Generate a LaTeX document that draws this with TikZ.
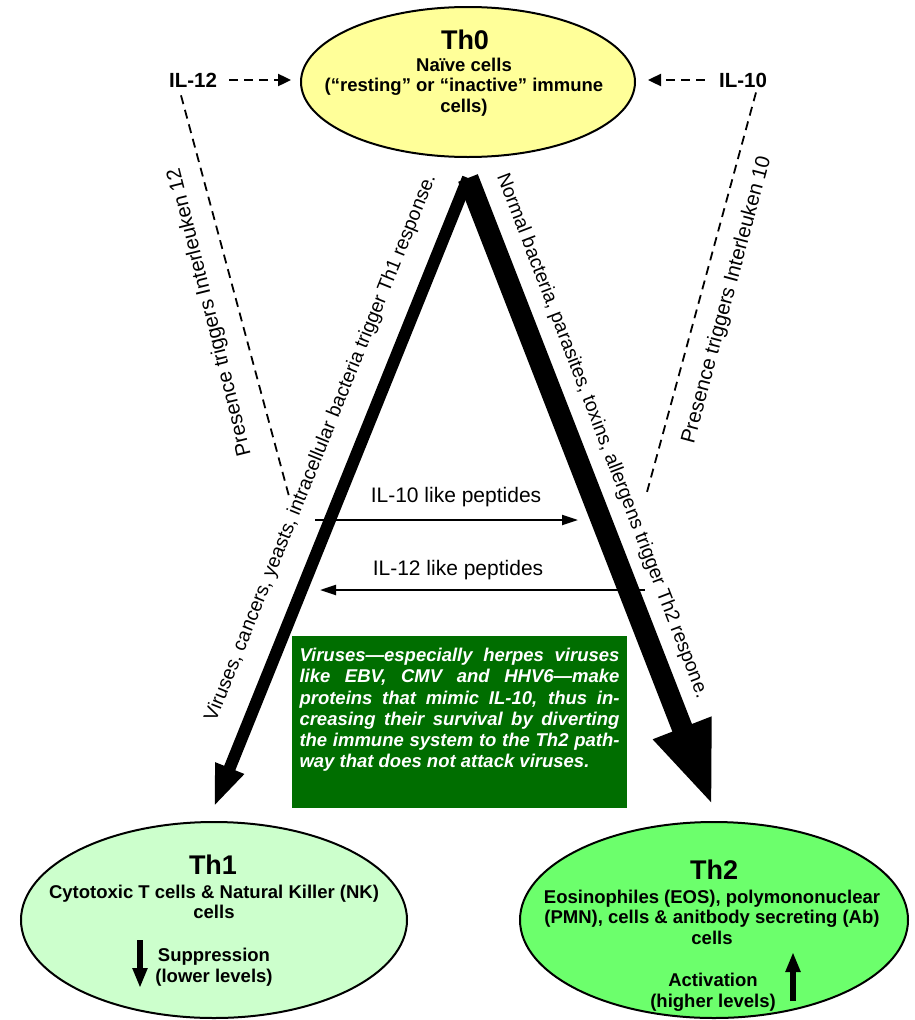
\documentclass[tikz,border=0pt]{standalone}
\usepackage{fontspec}
\setmainfont{Liberation Sans}
\usepackage{xcolor}
\usetikzlibrary{arrows.meta,positioning,shapes.geometric}

\definecolor{naive}{RGB}{255,255,153}
\definecolor{thone}{RGB}{204,255,204}
\definecolor{thtwo}{RGB}{108,255,108}
\definecolor{notegreen}{RGB}{0,110,0}

\begin{document}
\begin{tikzpicture}[
  x=1pt,y=-1pt,
  cell/.style={draw,ellipse,line width=2pt,inner sep=0pt},
  celltitle/.style={font=\fontsize{27}{30}\selectfont\bfseries,inner sep=0pt},
  celltext/.style={align=center,inner sep=0pt,
                   font=\fontsize{18.5}{20.5}\selectfont\bfseries},
  ilab/.style={font=\fontsize{20.5}{24}\selectfont\bfseries,inner sep=2pt},
  sidelab/.style={font=\fontsize{19.5}{22}\selectfont,inner sep=0pt},
  whylab/.style={font=\fontsize{20.5}{24}\selectfont,inner sep=0pt},
  peplab/.style={font=\fontsize{21}{24}\selectfont,inner sep=0pt},
  cue/.style={dash pattern=on 9pt off 6pt,line width=1.8pt},
  cuearrow/.style={cue,line width=2.4pt,-{Triangle[length=13pt,width=12pt]}},
  pep/.style={-{Triangle[length=16pt,width=10pt]},line width=2.2pt},
  toth1/.style={line width=12pt,-{Triangle[length=42pt,width=28pt]}},
  toth2/.style={line width=21pt,-{Triangle[length=85pt,width=56pt]}},
  level/.style={line width=6.5pt,-{Triangle[length=20pt,width=14pt]}},
  note/.style={fill=notegreen,inner sep=0pt},
  notetext/.style={text=white,text width=320pt,align=justify,inner sep=0pt,
                   font=\fontsize{18.5}{21.3}\selectfont\bfseries\itshape}
]
\useasboundingbox (0,0) rectangle (915,1020);

\node[cell,fill=naive,minimum width=334pt,minimum height=150pt] (th0) at (468,82) {};
\node[celltitle] (th0name) at (465,40) {Th0};
\node[celltext] (th0desc) at (464,87) {Naïve cells\\(“resting” or “inactive” immune\\cells)};

\node[ilab] (il12) at (193,80) {IL-12};
\node[ilab] (il10) at (743,80) {IL-10};
\draw[cuearrow,shorten <=10pt,shorten >=9pt] (il12) -- (il12 -| th0.west);
\draw[cuearrow,shorten <=12pt,shorten >=12pt] (il10) -- (il10 -| th0.east);

\coordinate (d12) at (290,500);
\coordinate (d10) at (647,492);
\draw[cue] ([xshift=-12pt,yshift=-6pt]il12.south) -- (d12);
\draw[cue] ([xshift=13pt,yshift=-3pt]il10.south) -- (d10);
\node[whylab,rotate=104] (il12why) at (210,312) {Presence triggers Interleuken 12};
\node[whylab,rotate=75] (il10why) at (727,300) {Presence triggers Interleuken 10};

\coordinate (apex) at (468,178);
\coordinate (tip1) at (214,807);
\coordinate (tip2) at (713,807);
\draw[toth2] (apex) -- (tip2);
\draw[toth1] (apex) -- (tip1);
\node[sidelab,rotate=68] (th1why) at (321,448)
  {Viruses, cancers, yeasts, intracellular bacteria trigger Th1 response.};
\node[sidelab,rotate=-69] (th2why) at (602,436)
  {Normal bacteria, parasites, toxins, allergens trigger Th2 respone.};

\coordinate (p10a) at (315,520);
\coordinate (p10b) at (578,520);
\coordinate (p12a) at (645,590);
\coordinate (p12b) at (320,590);
\draw[pep] (p10a) -- (p10b);
\draw[pep] (p12a) -- (p12b);
\node[peplab] (p10lab) at (456,497) {IL-10 like peptides};
\node[peplab] (p12lab) at (458,570) {IL-12 like peptides};

\node[note,minimum width=335pt,minimum height=172pt] (virus) at (459.5,722) {};
\node[notetext,anchor=north] (virustext) at ([yshift=-12pt]virus.north)
  {\tolerance=9999 Viruses—especially herpes viruses\linebreak like EBV, CMV and HHV6—make\linebreak
   proteins that mimic IL-10, thus in-\linebreak creasing their survival by diverting\linebreak
   the immune system to the Th2 path-\linebreak way that does not attack viruses.};

\node[cell,fill=thone,minimum width=386pt,minimum height=196pt] (th1) at (214,920) {};
\node[celltitle] (th1name) at (213,865) {Th1};
\node[celltext] (th1desc) at (214,902) {Cytotoxic T cells \& Natural Killer (NK)\\cells};
\node[celltext] (supp) at (214,967) {Suppression\\(lower levels)};
\coordinate (downa) at (140,940);
\coordinate (downb) at (140,988);
\draw[level] (downa) -- (downb);

\node[cell,fill=thtwo,minimum width=388pt,minimum height=196pt] (th2) at (714,920) {};
\node[celltitle] (th2name) at (714,870) {Th2};
\node[celltext] (th2desc) at (712,917)
  {Eosinophiles (EOS), polymononuclear\\(PMN),  cells \& anitbody secreting (Ab)\\cells};
\node[celltext] (act) at (713,992) {Activation\\(higher levels)};
\coordinate (upa) at (793,1001);
\coordinate (upb) at (793,952);
\draw[level] (upa) -- (upb);
\end{tikzpicture}
\end{document}
